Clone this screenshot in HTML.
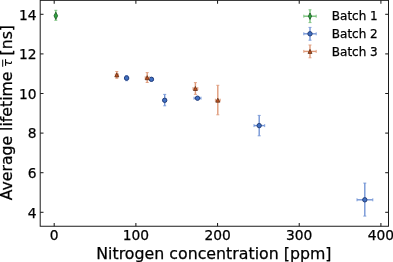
<!DOCTYPE html>
<html><head><meta charset="utf-8"><title>Average lifetime vs nitrogen concentration</title>
<style>html,body{margin:0;padding:0;background:#fff;}body{width:393px;height:262px;overflow:hidden;}svg{display:block;}text{font-family:"DejaVu Sans","Liberation Sans",sans-serif;fill:#000;stroke:#000;stroke-width:0.25px;}</style></head><body>
<svg width="393" height="262" viewBox="0 0 393 262">
<rect width="393" height="262" fill="#fff"/>
<g stroke="#1c1c1c" stroke-width="1.05" fill="none">
<line x1="54.20" y1="226.25" x2="54.20" y2="222.95"/>
<line x1="54.20" y1="0.35" x2="54.20" y2="3.65"/>
<line x1="135.88" y1="226.25" x2="135.88" y2="222.95"/>
<line x1="135.88" y1="0.35" x2="135.88" y2="3.65"/>
<line x1="217.55" y1="226.25" x2="217.55" y2="222.95"/>
<line x1="217.55" y1="0.35" x2="217.55" y2="3.65"/>
<line x1="299.23" y1="226.25" x2="299.23" y2="222.95"/>
<line x1="299.23" y1="0.35" x2="299.23" y2="3.65"/>
<line x1="380.90" y1="226.25" x2="380.90" y2="222.95"/>
<line x1="380.90" y1="0.35" x2="380.90" y2="3.65"/>
<line x1="40.2" y1="212.30" x2="43.5" y2="212.30"/>
<line x1="388.5" y1="212.30" x2="385.2" y2="212.30"/>
<line x1="40.2" y1="172.70" x2="43.5" y2="172.70"/>
<line x1="388.5" y1="172.70" x2="385.2" y2="172.70"/>
<line x1="40.2" y1="133.10" x2="43.5" y2="133.10"/>
<line x1="388.5" y1="133.10" x2="385.2" y2="133.10"/>
<line x1="40.2" y1="93.50" x2="43.5" y2="93.50"/>
<line x1="388.5" y1="93.50" x2="385.2" y2="93.50"/>
<line x1="40.2" y1="53.90" x2="43.5" y2="53.90"/>
<line x1="388.5" y1="53.90" x2="385.2" y2="53.90"/>
<line x1="40.2" y1="14.30" x2="43.5" y2="14.30"/>
<line x1="388.5" y1="14.30" x2="385.2" y2="14.30"/>
</g>
<rect x="40.2" y="0.35" width="348.3" height="225.9" fill="none" stroke="#1c1c1c" stroke-width="1.0"/>
<g font-size="13.8px" text-anchor="middle">
<text x="54.20" y="240.4">0</text>
<text x="135.88" y="240.4">100</text>
<text x="217.55" y="240.4">200</text>
<text x="299.23" y="240.4">300</text>
<text x="380.90" y="240.4">400</text>
</g>
<g font-size="13.8px" text-anchor="end">
<text x="36.6" y="217.60">4</text>
<text x="36.6" y="178.00">6</text>
<text x="36.6" y="138.40">8</text>
<text x="36.6" y="98.80">10</text>
<text x="36.6" y="59.20">12</text>
<text x="36.6" y="19.60">14</text>
</g>
<text x="213.9" y="258.6" font-size="15.8px" text-anchor="middle">Nitrogen concentration [ppm]</text>
<g transform="translate(12.2,0) rotate(-90)" font-size="15.7px">
<text x="-200.3" y="0">Average lifetime</text>
<text x="-67.0" y="0" font-style="italic" font-family="DejaVu Serif, Liberation Serif, serif" font-size="13px" style="stroke:none">τ</text>
<rect x="-66.8" y="-10.0" width="7.2" height="1.0" fill="#000"/>
<text x="-55.4" y="0">[ns]</text>
</g>
<g stroke="#78c07a" stroke-width="1.4" fill="none"><line x1="54.80" y1="15.80" x2="56.80" y2="15.80"/><line stroke-width="0.9" x1="54.80" y1="14.30" x2="54.80" y2="17.30"/><line stroke-width="0.9" x1="56.80" y1="14.30" x2="56.80" y2="17.30"/><line x1="55.80" y1="10.30" x2="55.80" y2="20.30"/><line stroke-width="0.9" x1="54.30" y1="10.30" x2="57.30" y2="10.30"/><line stroke-width="0.9" x1="54.30" y1="20.30" x2="57.30" y2="20.30"/></g>
<path d="M55.80 12.20 L57.60 15.80 L55.80 19.40 L54.00 15.80 Z" fill="#2fa640" stroke="#1f5426" stroke-width="0.8"/>
<g stroke="#7596d6" stroke-width="1.4" fill="none"><line x1="124.60" y1="78.10" x2="128.60" y2="78.10"/><line stroke-width="0.9" x1="124.60" y1="76.60" x2="124.60" y2="79.60"/><line stroke-width="0.9" x1="128.60" y1="76.60" x2="128.60" y2="79.60"/><line x1="126.60" y1="75.50" x2="126.60" y2="80.70"/><line stroke-width="0.9" x1="125.10" y1="75.50" x2="128.10" y2="75.50"/><line stroke-width="0.9" x1="125.10" y1="80.70" x2="128.10" y2="80.70"/></g>
<g stroke="#7596d6" stroke-width="1.4" fill="none"><line x1="149.40" y1="79.30" x2="153.40" y2="79.30"/><line stroke-width="0.9" x1="149.40" y1="77.80" x2="149.40" y2="80.80"/><line stroke-width="0.9" x1="153.40" y1="77.80" x2="153.40" y2="80.80"/><line x1="151.40" y1="77.60" x2="151.40" y2="81.00"/><line stroke-width="0.9" x1="149.90" y1="77.60" x2="152.90" y2="77.60"/><line stroke-width="0.9" x1="149.90" y1="81.00" x2="152.90" y2="81.00"/></g>
<g stroke="#7596d6" stroke-width="1.4" fill="none"><line x1="163.20" y1="100.30" x2="166.20" y2="100.30"/><line stroke-width="0.9" x1="163.20" y1="98.80" x2="163.20" y2="101.80"/><line stroke-width="0.9" x1="166.20" y1="98.80" x2="166.20" y2="101.80"/><line x1="164.70" y1="94.40" x2="164.70" y2="105.80"/><line stroke-width="0.9" x1="163.20" y1="94.40" x2="166.20" y2="94.40"/><line stroke-width="0.9" x1="163.20" y1="105.80" x2="166.20" y2="105.80"/></g>
<g stroke="#7596d6" stroke-width="1.4" fill="none"><line x1="194.00" y1="98.20" x2="201.00" y2="98.20"/><line stroke-width="0.9" x1="194.00" y1="96.70" x2="194.00" y2="99.70"/><line stroke-width="0.9" x1="201.00" y1="96.70" x2="201.00" y2="99.70"/><line x1="197.50" y1="97.00" x2="197.50" y2="99.40"/><line stroke-width="0.9" x1="196.00" y1="97.00" x2="199.00" y2="97.00"/><line stroke-width="0.9" x1="196.00" y1="99.40" x2="199.00" y2="99.40"/></g>
<g stroke="#7596d6" stroke-width="1.4" fill="none"><line x1="254.00" y1="125.60" x2="264.70" y2="125.60"/><line stroke-width="0.9" x1="254.00" y1="124.10" x2="254.00" y2="127.10"/><line stroke-width="0.9" x1="264.70" y1="124.10" x2="264.70" y2="127.10"/><line x1="259.20" y1="115.40" x2="259.20" y2="135.80"/><line stroke-width="0.9" x1="257.70" y1="115.40" x2="260.70" y2="115.40"/><line stroke-width="0.9" x1="257.70" y1="135.80" x2="260.70" y2="135.80"/></g>
<g stroke="#7596d6" stroke-width="1.4" fill="none"><line x1="357.00" y1="199.80" x2="372.80" y2="199.80"/><line stroke-width="0.9" x1="357.00" y1="198.30" x2="357.00" y2="201.30"/><line stroke-width="0.9" x1="372.80" y1="198.30" x2="372.80" y2="201.30"/><line x1="364.80" y1="183.10" x2="364.80" y2="216.10"/><line stroke-width="0.9" x1="363.30" y1="183.10" x2="366.30" y2="183.10"/><line stroke-width="0.9" x1="363.30" y1="216.10" x2="366.30" y2="216.10"/></g>
<circle cx="126.60" cy="78.10" r="2.2" fill="#4070c4" stroke="#1f3870" stroke-width="0.9"/>
<circle cx="151.40" cy="79.30" r="2.2" fill="#4070c4" stroke="#1f3870" stroke-width="0.9"/>
<circle cx="164.70" cy="100.30" r="2.2" fill="#4070c4" stroke="#1f3870" stroke-width="0.9"/>
<circle cx="197.50" cy="98.20" r="2.2" fill="#4070c4" stroke="#1f3870" stroke-width="0.9"/>
<circle cx="259.20" cy="125.60" r="2.2" fill="#4070c4" stroke="#1f3870" stroke-width="0.9"/>
<circle cx="364.80" cy="199.80" r="2.2" fill="#4070c4" stroke="#1f3870" stroke-width="0.9"/>
<g stroke="#df9b7b" stroke-width="1.4" fill="none"><line x1="115.30" y1="74.90" x2="118.30" y2="74.90"/><line stroke-width="0.9" x1="115.30" y1="73.40" x2="115.30" y2="76.40"/><line stroke-width="0.9" x1="118.30" y1="73.40" x2="118.30" y2="76.40"/><line x1="116.80" y1="71.50" x2="116.80" y2="78.30"/><line stroke-width="0.9" x1="115.30" y1="71.50" x2="118.30" y2="71.50"/><line stroke-width="0.9" x1="115.30" y1="78.30" x2="118.30" y2="78.30"/></g>
<g stroke="#df9b7b" stroke-width="1.4" fill="none"><line x1="145.20" y1="77.70" x2="149.20" y2="77.70"/><line stroke-width="0.9" x1="145.20" y1="76.20" x2="145.20" y2="79.20"/><line stroke-width="0.9" x1="149.20" y1="76.20" x2="149.20" y2="79.20"/><line x1="147.20" y1="72.60" x2="147.20" y2="82.50"/><line stroke-width="0.9" x1="145.70" y1="72.60" x2="148.70" y2="72.60"/><line stroke-width="0.9" x1="145.70" y1="82.50" x2="148.70" y2="82.50"/></g>
<g stroke="#df9b7b" stroke-width="1.4" fill="none"><line x1="193.00" y1="88.50" x2="197.80" y2="88.50"/><line stroke-width="0.9" x1="193.00" y1="87.00" x2="193.00" y2="90.00"/><line stroke-width="0.9" x1="197.80" y1="87.00" x2="197.80" y2="90.00"/><line x1="195.40" y1="82.60" x2="195.40" y2="94.40"/><line stroke-width="0.9" x1="193.90" y1="82.60" x2="196.90" y2="82.60"/><line stroke-width="0.9" x1="193.90" y1="94.40" x2="196.90" y2="94.40"/></g>
<g stroke="#df9b7b" stroke-width="1.4" fill="none"><line x1="215.40" y1="100.20" x2="220.20" y2="100.20"/><line stroke-width="0.9" x1="215.40" y1="98.70" x2="215.40" y2="101.70"/><line stroke-width="0.9" x1="220.20" y1="98.70" x2="220.20" y2="101.70"/><line x1="217.80" y1="85.30" x2="217.80" y2="114.80"/><line stroke-width="0.9" x1="216.30" y1="85.30" x2="219.30" y2="85.30"/><line stroke-width="0.9" x1="216.30" y1="114.80" x2="219.30" y2="114.80"/></g>
<path d="M116.80 72.90 L118.80 76.90 L114.80 76.90 Z" fill="#c4501c" stroke="#5f3018" stroke-width="0.8" stroke-linejoin="miter"/>
<path d="M147.20 75.70 L149.20 79.70 L145.20 79.70 Z" fill="#c4501c" stroke="#5f3018" stroke-width="0.8" stroke-linejoin="miter"/>
<path d="M195.40 86.50 L197.40 90.50 L193.40 90.50 Z" fill="#c4501c" stroke="#5f3018" stroke-width="0.8" stroke-linejoin="miter"/>
<path d="M217.80 98.20 L219.80 102.20 L215.80 102.20 Z" fill="#c4501c" stroke="#5f3018" stroke-width="0.8" stroke-linejoin="miter"/>
<g stroke="#78c07a" stroke-width="1.4" fill="none"><line x1="303.80" y1="16.20" x2="316.20" y2="16.20"/><line stroke-width="0.9" x1="303.80" y1="14.70" x2="303.80" y2="17.70"/><line stroke-width="0.9" x1="316.20" y1="14.70" x2="316.20" y2="17.70"/><line x1="310.00" y1="9.80" x2="310.00" y2="22.60"/><line stroke-width="0.9" x1="308.50" y1="9.80" x2="311.50" y2="9.80"/><line stroke-width="0.9" x1="308.50" y1="22.60" x2="311.50" y2="22.60"/></g>
<path d="M310.00 13.00 L311.60 16.20 L310.00 19.40 L308.40 16.20 Z" fill="#2fa640" stroke="#1f5426" stroke-width="0.8"/>
<text x="331.8" y="20.45" font-size="12px">Batch 1</text>
<g stroke="#7596d6" stroke-width="1.4" fill="none"><line x1="303.80" y1="33.80" x2="316.20" y2="33.80"/><line stroke-width="0.9" x1="303.80" y1="32.30" x2="303.80" y2="35.30"/><line stroke-width="0.9" x1="316.20" y1="32.30" x2="316.20" y2="35.30"/><line x1="310.00" y1="27.40" x2="310.00" y2="40.20"/><line stroke-width="0.9" x1="308.50" y1="27.40" x2="311.50" y2="27.40"/><line stroke-width="0.9" x1="308.50" y1="40.20" x2="311.50" y2="40.20"/></g>
<circle cx="310.00" cy="33.80" r="2.2" fill="#4070c4" stroke="#1f3870" stroke-width="0.9"/>
<text x="331.8" y="38.05" font-size="12px">Batch 2</text>
<g stroke="#df9b7b" stroke-width="1.4" fill="none"><line x1="303.80" y1="51.40" x2="316.20" y2="51.40"/><line stroke-width="0.9" x1="303.80" y1="49.90" x2="303.80" y2="52.90"/><line stroke-width="0.9" x1="316.20" y1="49.90" x2="316.20" y2="52.90"/><line x1="310.00" y1="45.00" x2="310.00" y2="57.80"/><line stroke-width="0.9" x1="308.50" y1="45.00" x2="311.50" y2="45.00"/><line stroke-width="0.9" x1="308.50" y1="57.80" x2="311.50" y2="57.80"/></g>
<path d="M310.00 49.40 L312.00 53.40 L308.00 53.40 Z" fill="#c4501c" stroke="#5f3018" stroke-width="0.8" stroke-linejoin="miter"/>
<text x="331.8" y="55.65" font-size="12px">Batch 3</text>
</svg></body></html>
